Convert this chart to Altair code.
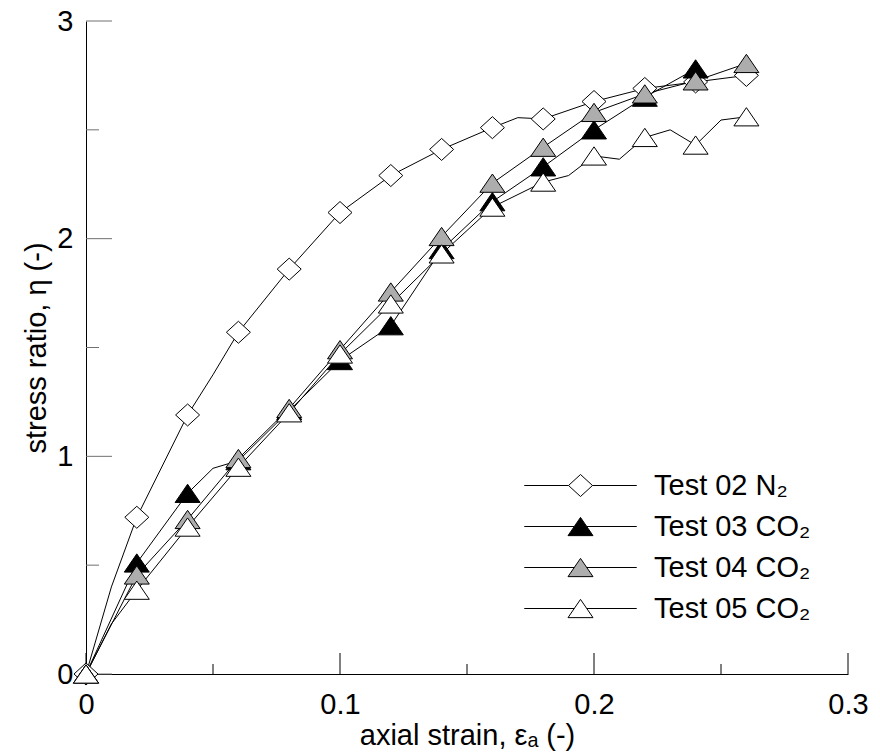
import altair as alt
import pandas as pd

# ---------------- data ----------------
series = ["Test 02 N₂", "Test 03 CO₂", "Test 04 CO₂", "Test 05 CO₂"]

strain = [0.00, 0.02, 0.04, 0.06, 0.08, 0.10, 0.12, 0.14, 0.16, 0.18, 0.20, 0.22, 0.24, 0.26]
eta_t02 = [0.00, 0.72, 1.19, 1.57, 1.86, 2.12, 2.29, 2.41, 2.51, 2.55, 2.63, 2.69, 2.72, 2.75]
eta_t03 = [0.00, 0.51, 0.83, 0.98, 1.21, 1.44, 1.60, 1.95, 2.17, 2.33, 2.50, 2.65, 2.78]
eta_t04 = [0.00, 0.455, 0.71, 0.99, 1.22, 1.49, 1.755, 2.01, 2.255, 2.42, 2.58, 2.665, 2.725, 2.805]
eta_t05 = [0.00, 0.385, 0.675, 0.95, 1.20, 1.47, 1.70, 1.93, 2.145, 2.26, 2.38, 2.465, 2.43, 2.56]

# extra vertices of the curves between the plotted markers
line_extra_x = {
    "Test 02 N₂": [0.01, 0.05, 0.17],
    "Test 03 CO₂": [0.05],
    "Test 04 CO₂": [],
    "Test 05 CO₂": [0.01, 0.19, 0.21, 0.23, 0.25],
}
line_extra_y = {
    "Test 02 N₂": [0.40, 1.375, 2.556],
    "Test 03 CO₂": [0.945],
    "Test 04 CO₂": [],
    "Test 05 CO₂": [0.23, 2.29, 2.365, 2.50, 2.545],
}

x_major = [0.0, 0.1, 0.2, 0.3]
x_minor = [0.05, 0.15, 0.25]
y_major = [0, 1, 2, 3]
y_minor = [0.5, 1.5, 2.5]

# ---------------- tables ----------------
values = {
    "Test 02 N₂": eta_t02,
    "Test 03 CO₂": eta_t03,
    "Test 04 CO₂": eta_t04,
    "Test 05 CO₂": eta_t05,
}
pts_rows, line_rows = [], []
for s in series:
    ys_ = values[s]
    for xv, yv in zip(strain[: len(ys_)], ys_):
        pts_rows.append({"series": s, "x": xv, "y": yv})
        line_rows.append({"series": s, "x": xv, "y": yv})
    for xv, yv in zip(line_extra_x[s], line_extra_y[s]):
        line_rows.append({"series": s, "x": xv, "y": yv})
pts = pd.DataFrame(pts_rows)
lines = pd.DataFrame(line_rows).sort_values(["series", "x"]).reset_index(drop=True)

# ---------------- styling ----------------
W, H = 762, 653
FONT = "Liberation Sans"
FS = 29

xs = alt.Scale(domain=[0, 0.3], nice=False, zero=False)
ys = alt.Scale(domain=[0, 3], nice=False, zero=False)

diamond = "M-0.96,0L0,-0.88L0.96,0L0,0.88Z"
tri = "M0,-0.73L1,0.73L-1,0.73Z"
diamond_leg = "M-4.5,0L-0.96,0M0.96,0L4.5,0M-0.96,0L0,-0.88L0.96,0L0,0.88Z"
tri_leg = "M-4.5,0L-0.5,0M0.5,0L4.5,0M0,-0.73L1,0.73L-1,0.73Z"
fills = ["white", "black", "#adadad", "white"]
strokes = ["black", "black", "black", "black"]

x_axis = alt.Axis(
    values=x_major, format=".1~f", ticks=False, grid=False, labelFlush=False,
    domainColor="black", domainWidth=1, labelFont=FONT, labelFontSize=FS,
    labelColor="black", labelPadding=16, title="axial strain, εₐ (-)",
    titleFont=FONT, titleFontSize=FS, titleFontWeight="normal", titleColor="black",
    titleY=70, titleBaseline="alphabetic",
)
y_axis = alt.Axis(
    values=y_major, format="d", ticks=False, grid=False, labelFlush=False,
    domainColor="black", domainWidth=1, labelFont=FONT, labelFontSize=FS,
    labelColor="black", labelPadding=13, title="stress ratio, η (-)",
    titleFont=FONT, titleFontSize=FS, titleFontWeight="normal", titleColor="black",
    titleX=-41, titleAngle=270, titleBaseline="alphabetic",
)


def X(field):
    return alt.X(field, scale=xs, axis=x_axis)


def Y(field):
    return alt.Y(field, scale=ys, axis=y_axis)


# inward ticks
xmaj = alt.Chart(pd.DataFrame({"v": x_major})).mark_rule(color="black", strokeWidth=1).encode(
    x=X("v:Q"), y=alt.value(H), y2=alt.value(H - 21))
xmin = alt.Chart(pd.DataFrame({"v": x_minor})).mark_rule(color="black", strokeWidth=1).encode(
    x=X("v:Q"), y=alt.value(H), y2=alt.value(H - 10))
ymaj = alt.Chart(pd.DataFrame({"v": y_major})).mark_rule(color="#707070", strokeWidth=1).encode(
    y=Y("v:Q"), x=alt.value(0), x2=alt.value(26))
ymin = alt.Chart(pd.DataFrame({"v": y_minor})).mark_rule(color="#707070", strokeWidth=1).encode(
    y=Y("v:Q"), x=alt.value(0), x2=alt.value(13))

line_layer = alt.Chart(lines).mark_line(color="black", strokeWidth=1).encode(
    x=X("x:Q"),
    y=Y("y:Q"),
    detail="series:N",
    order="x:Q",
)

point_layer = alt.Chart(pts).mark_point(
    filled=True, stroke="black", strokeWidth=1, size=625, opacity=1
).encode(
    x=X("x:Q"),
    y=Y("y:Q"),
    shape=alt.Shape("series:N", scale=alt.Scale(domain=series, range=[diamond, tri, tri, tri]), legend=None),
    fill=alt.Fill("series:N", scale=alt.Scale(domain=series, range=fills), legend=None),
)

leg = alt.Legend(
    title=None, orient="none", legendX=437, legendY=450, direction="vertical",
    symbolSize=625, symbolStrokeWidth=1, symbolStrokeColor="black",
    symbolOffset=43, labelOffset=59, rowPadding=11, padding=0,
    labelFont=FONT, labelFontSize=FS, labelColor="black", labelLimit=400,
    labelBaseline="middle", symbolOpacity=1,
)
legend_layer = alt.Chart(pts).transform_filter("false").mark_point(
    filled=True, strokeWidth=1, opacity=1
).encode(
    x=X("x:Q"),
    y=Y("y:Q"),
    shape=alt.Shape("series:N", scale=alt.Scale(domain=series, range=[diamond_leg, tri_leg, tri_leg, tri_leg]), legend=leg),
    fill=alt.Fill("series:N", scale=alt.Scale(domain=series, range=fills), legend=leg),
    stroke=alt.Stroke("series:N", scale=alt.Scale(domain=series, range=strokes), legend=leg),
)

chart = alt.layer(
    line_layer, xmaj, xmin, ymaj, ymin, point_layer, legend_layer
).resolve_scale(
    shape="independent", fill="independent", stroke="independent"
).properties(
    width=W, height=H,
    padding={"left": 86, "top": 21, "right": 32, "bottom": 80},
    autosize=alt.AutoSizeParams(type="none"),
    background="white",
).configure_view(stroke=None)

chart.save("out.html", embed_options={"renderer": "svg", "actions": False})
